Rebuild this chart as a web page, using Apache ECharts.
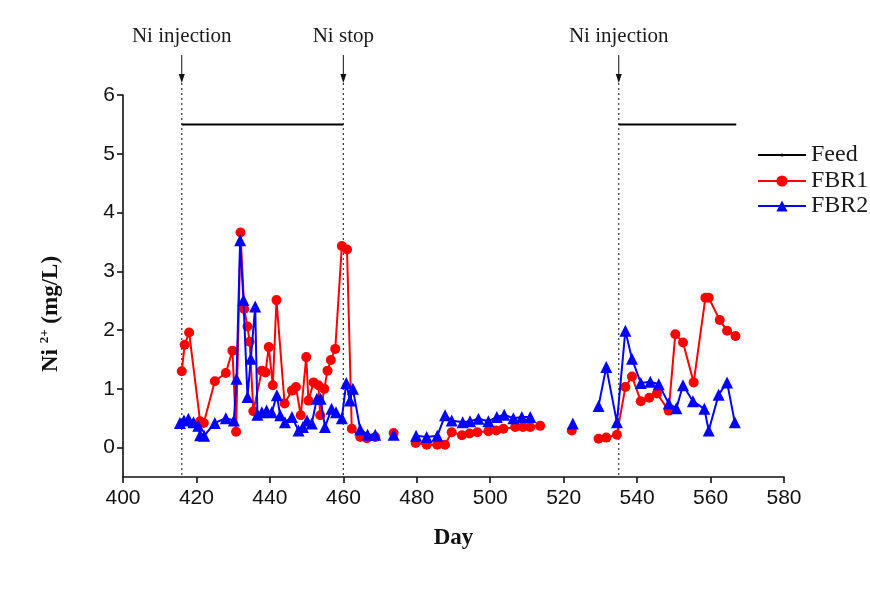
<!DOCTYPE html>
<html style="height: 100%;width:100%">
	<head>
		<meta charset="utf-8">
	</head>
	<body style="height: 100%; width:100%; margin: 0; background: #fff">
		<div id="chart-panel" style="height: 603px;width: 870px"></div>
		<script type="text/javascript" src="https://cdn.jsdelivr.net/npm/echarts@6/dist/echarts.min.js"></script>

		<script type="text/javascript">
			// null in both arrays = a break in the curve
			var feedDays = [416, 460, null, 535, 567];
			var feedValues = [5.5, 5.5, null, 5.5, 5.5];

			var fbr1Days = [416, 416.8, 418, 421, 422, 425, 428, 429.8, 430.8, 432, 433, 433.9, 434.5, 435.5,
				437.8, 438.8, 439.7, 440.8, 441.8, 444, 446, 447.1, 448.4, 449.9, 450.5, 451.9, 453.2, 453.7,
				454.8, 455.7, 456.6, 457.8, 459.6, 461, 462.3, 464.6, 466.4, 468.7, null, 473.7, null,
				479.7, 482.7, 485.6, 487.7, 489.5, 492.3, 494.4, 496.5, 499.5, 501.6, 503.6, 506.8, 508.9,
				510.9, 513.6, null, 522.2, null, 529.5, 531.6, 534.5, 536.8, 538.6, 541, 543.3, 545.4, 548.6,
				550.4, 552.5, 555.4, 558.6, 559.5, 562.5, 564.5, 566.8
			];
			var fbr1Values = [1.3, 1.75, 1.96, 0.45, 0.42, 1.13, 1.27, 1.65, 0.27, 3.66, 2.36, 2.06, 1.8, 0.62,
				1.31, 1.28, 1.71, 1.06, 2.51, 0.75, 0.97, 1.03, 0.55, 1.54, 0.8, 1.11, 1.06, 0.55,
				1.0, 1.31, 1.49, 1.68, 3.43, 3.37, 0.32, 0.18, 0.16, 0.18, null, 0.25, null,
				0.08, 0.05, 0.05, 0.05, 0.26, 0.21, 0.24, 0.26, 0.28, 0.29, 0.32, 0.35, 0.35,
				0.35, 0.37, null, 0.29, null, 0.15, 0.17, 0.22, 1.03, 1.21, 0.79, 0.85, 0.92, 0.63,
				1.93, 1.79, 1.11, 2.55, 2.55, 2.17, 1.99, 1.9
			];

			var fbr2Days = [415.5, 416.6, 417.8, 419.2, 420.5, 421, 422.1, 425, 428, 430.2, 430.9, 431.9, 432.8,
				433.9, 434.8, 436, 436.6, 437.8, 439.1, 440.5, 441.9, 442.8, 444.1, 446, 447.8, 449, 450.1,
				451.4, 452.8, 453.8, 455, 456.8, 458, 459.6, 460.8, 461.8, 462.6, 464.6, 466.6, 468.7, null,
				473.7, null, 479.8, 482.7, 485.6, 487.7, 489.5, 492.5, 494.5, 496.8, 499.5, 501.8, 503.8,
				506.3, 508.6, 510.9, null, 522.5, null, 529.5, 531.6, 534.5, 536.8, 538.6, 541, 543.6, 545.9,
				548.6, 550.7, 552.5, 555.2, 558.3, 559.5, 562.2, 564.5, 566.6
			];
			var fbr2Values = [0.42, 0.46, 0.49, 0.43, 0.37, 0.21, 0.2, 0.42, 0.5, 0.46, 1.17, 3.53, 2.51,
				0.86, 1.51, 2.4, 0.56, 0.6, 0.63, 0.6, 0.89, 0.55, 0.43, 0.52, 0.29, 0.35, 0.46,
				0.41, 0.83, 0.83, 0.35, 0.66, 0.6, 0.5, 1.1, 0.8, 1.0, 0.31, 0.22, 0.22, null,
				0.22, null, 0.2, 0.18, 0.2, 0.55, 0.46, 0.43, 0.45, 0.49, 0.45, 0.52, 0.56,
				0.5, 0.52, 0.52, null, 0.41, null, 0.71, 1.37, 0.43, 1.99, 1.51, 1.1, 1.12, 1.08,
				0.75, 0.67, 1.06, 0.79, 0.66, 0.29, 0.9, 1.11, 0.43
			];

			var yTicks = [0, 1, 2, 3, 4, 5, 6];

			var events = [
				{ day: 416, text: 'Ni injection' },
				{ day: 460, text: 'Ni stop' },
				{ day: 535, text: 'Ni injection' }
			];

			function pairs(days, values) {
				return days.map(function(d, i) {
					return d === null ? ['-', '-'] : [d, values[i]];
				});
			}

			var serif = 'Liberation Serif';
			var sans = 'Liberation Sans';

			var dom = document.getElementById("chart-panel");
			var myChart = echarts.init(dom);
			var option = {
				backgroundColor: '#ffffff',
				animation: false,
				grid: {
					left: 123,
					right: 86,
					top: 95,
					bottom: 126,
				},
				legend: [{
					data: ['Feed'],
					orient: 'vertical',
					left: 757,
					top: 143,
					padding: 0,
					itemWidth: 48,
					itemHeight: 4,
					itemTextGap: 7,
					textStyle: { fontFamily: serif, fontSize: 24, color: '#1a1a1a' },
				}, {
					data: ['FBR1', 'FBR2'],
					orient: 'vertical',
					left: 757,
					top: 169,
					padding: 0,
					itemWidth: 48,
					itemHeight: 14,
					itemGap: 1,
					itemTextGap: 7,
					textStyle: { fontFamily: serif, fontSize: 24, color: '#1a1a1a' },
				}],
				xAxis: {
					type: 'value',
					min: 400,
					max: 580,
					interval: 20,
					name: 'Day',
					nameLocation: 'middle',
					nameGap: 50,
					nameTextStyle: { fontFamily: serif, fontSize: 23, fontWeight: 'bold', color: '#111' },
					axisLine: { onZero: false, lineStyle: { color: '#111', width: 1.6 } },
					axisTick: { length: 6, lineStyle: { color: '#111', width: 1.6 } },
					axisLabel: { fontFamily: sans, fontSize: 21, color: '#111', margin: 11 },
					splitLine: { show: false },
				},
				yAxis: {
					type: 'value',
					min: -0.5,
					max: 6,
					name: '{n|Ni }{s|2+}{n| (mg/L)}',
					nameLocation: 'middle',
					nameGap: 58,
					nameTextStyle: {
						padding: [0, 56, 0, 0],
						rich: {
							n: { fontFamily: serif, fontSize: 23, fontWeight: 'bold', color: '#111', lineHeight: 27 },
							s: { fontFamily: serif, fontSize: 13, fontWeight: 'bold', color: '#111', verticalAlign: 'top', lineHeight: 14 },
						},
					},
					axisLine: { show: true, onZero: false, lineStyle: { color: '#111', width: 1.6 } },
					axisTick: { show: true, length: 6, customValues: yTicks, lineStyle: { color: '#111', width: 1.6 } },
					axisLabel: {
						fontFamily: sans,
						fontSize: 21,
						color: '#111',
						margin: 8,
						customValues: yTicks,
					},
					splitLine: { show: false },
				},
				series: [{
					name: 'Feed',
					type: 'line',
					data: pairs(feedDays, feedValues),
					symbol: 'circle',
					symbolSize: 3,
					showSymbol: false,
					color: '#000',
					lineStyle: { color: '#000', width: 2 },
					z: 3,
				}, {
					name: 'FBR1',
					type: 'line',
					data: pairs(fbr1Days, fbr1Values),
					symbol: 'circle',
					symbolSize: 10,
					color: '#ff0000',
					lineStyle: { color: '#ff0000', width: 2 },
					itemStyle: { color: '#ff0000' },
					z: 4,
				}, {
					name: 'FBR2',
					type: 'line',
					data: pairs(fbr2Days, fbr2Values),
					symbol: 'triangle',
					symbolSize: 12,
					color: '#0000ff',
					lineStyle: { color: '#0000ff', width: 2 },
					itemStyle: { color: '#0000ff' },
					z: 5,
				}],
			};
			myChart.setOption(option);

			// injection / stop markers, placed through the axis scale
			var marks = [];
			events.forEach(function(ev) {
				var bottom = myChart.convertToPixel({ gridIndex: 0 }, [ev.day, -0.5]);
				var x = bottom[0];
				var tipY = 83;
				marks.push({
					type: 'line',
					shape: { x1: x, y1: tipY, x2: x, y2: bottom[1] },
					style: { stroke: '#333', lineWidth: 1.2, lineDash: [2, 3] },
					z: 1,
				});
				marks.push({
					type: 'line',
					shape: { x1: x, y1: 55, x2: x, y2: tipY - 6 },
					style: { stroke: '#111', lineWidth: 1 },
				});
				marks.push({
					type: 'polygon',
					shape: { points: [[x - 3, tipY - 9], [x + 3, tipY - 9], [x, tipY]] },
					style: { fill: '#111' },
				});
				marks.push({
					type: 'text',
					x: x,
					y: 36,
					style: {
						text: ev.text,
						fontFamily: serif,
						fontSize: 21,
						fill: '#1a1a1a',
						align: 'center',
						verticalAlign: 'middle',
					},
				});
			});
			myChart.setOption({ graphic: marks });
		</script>
	</body>
</html>
